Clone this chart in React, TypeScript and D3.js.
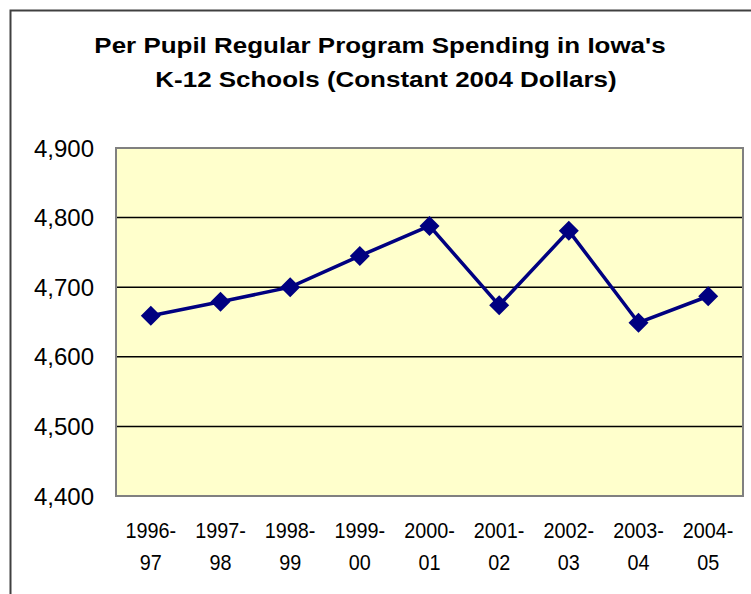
import React from "react";
import * as d3 from "d3";

const categories = ["1996-97", "1997-98", "1998-99", "1999-00", "2000-01", "2001-02", "2002-03", "2003-04", "2004-05"];
const values = [4659, 4679, 4700, 4745, 4788, 4674, 4781, 4649, 4687];
const yTicks = [4400, 4500, 4600, 4700, 4800, 4900];
const titleLines = ["Per Pupil Regular Program Spending in Iowa's", "K-12 Schools (Constant 2004 Dollars)"];

const W = 751;
const H = 594;
const plot = { left: 116, right: 743, top: 148, bottom: 496 };
const FONT = "Liberation Sans, Arial, sans-serif";

export default function App() {
  const x = d3.scaleBand<string>().domain(categories).range([plot.left, plot.right]);
  const y = d3.scaleLinear().domain([4400, 4900]).range([plot.bottom, plot.top]);
  const fmt = d3.format(",");
  const cx = (c: string) => (x(c) as number) + x.bandwidth() / 2;
  const line = d3
    .line<number>()
    .x((_, i) => cx(categories[i]))
    .y((d) => y(d));
  const r = 10;
  const diamond = `M0,${-r}L${r},0L0,${r}L${-r},0Z`;

  return (
    <svg width={W} height={H} style={{ position: "absolute", left: 0, top: 0, background: "#fff" }}>
      <rect x={10.5} y={10.5} width={W + 20} height={H + 20} fill="#fff" stroke="#404040" strokeWidth={2} />
      {titleLines.map((t, i) => (
        <g key={i} transform={`translate(${i === 0 ? 380 : 386},${52.5 + i * 34.2}) scale(1.18,1)`}>
          <text x={0} y={0} textAnchor="middle" fontFamily={FONT} fontWeight="bold" fontSize={22} fill="#000">
            {t}
          </text>
        </g>
      ))}
      <rect
        x={plot.left}
        y={plot.top}
        width={plot.right - plot.left}
        height={plot.bottom - plot.top}
        fill="#FFFFCC"
        stroke="none"
      />
      {yTicks.map((t) => (
        <line key={t} x1={plot.left} x2={plot.right} y1={y(t)} y2={y(t)} stroke="#000" strokeWidth={1.5} />
      ))}
      <rect
        x={plot.left}
        y={plot.top}
        width={plot.right - plot.left}
        height={plot.bottom - plot.top}
        fill="none"
        stroke="#808080"
        strokeWidth={2}
      />
      {yTicks.map((t) => (
        <text key={t} x={94} y={y(t) + 8.5} textAnchor="end" fontFamily={FONT} fontSize={24} fill="#000">
          {fmt(t)}
        </text>
      ))}
      {categories.map((c) => {
        const [a, b] = c.split("-");
        return (
          <g key={c} transform={`translate(${cx(c)},0) scale(0.9,1)`} fontFamily={FONT} fontSize={22} fill="#000" textAnchor="middle">
            <text x={0} y={538}>{a + "-"}</text>
            <text x={0} y={570}>{b}</text>
          </g>
        );
      })}
      <path d={line(values) || ""} fill="none" stroke="#000080" strokeWidth={3.5} />
      {values.map((v, i) => (
        <path key={i} d={diamond} transform={`translate(${cx(categories[i])},${y(v)})`} fill="#000080" />
      ))}
    </svg>
  );
}
